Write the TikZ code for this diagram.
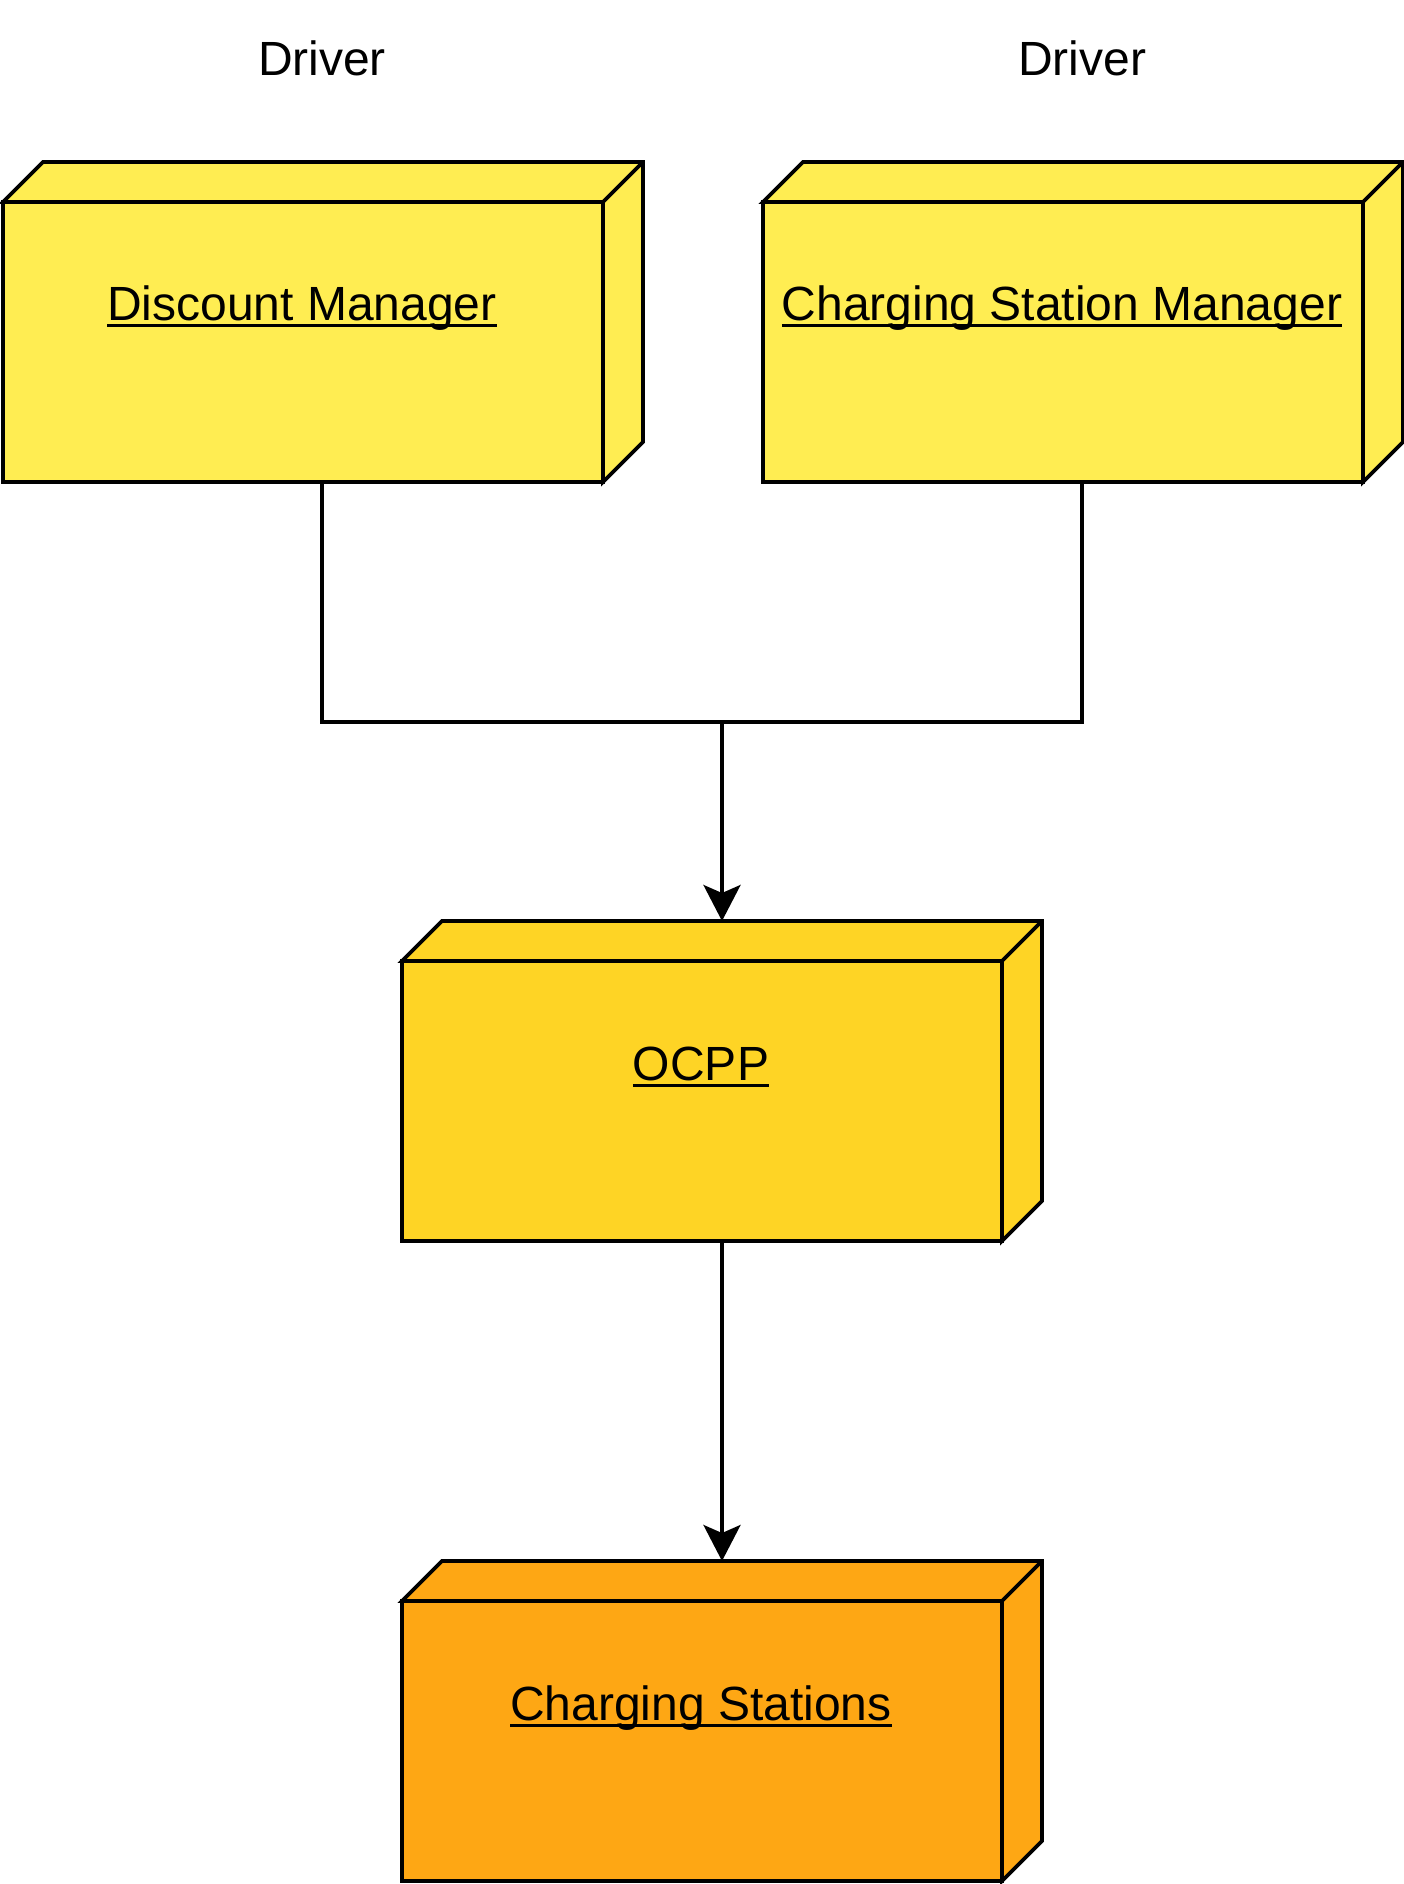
\documentclass[tikz,border=0pt]{standalone}
\usepackage{fontspec}
\setmainfont{Liberation Sans}
\usetikzlibrary{arrows.meta,calc}
\definecolor{ylight}{HTML}{FFED52}
\definecolor{ymid}{HTML}{FED425}
\definecolor{yorange}{HTML}{FEA714}
\newcommand{\myul}[1]{\setbox0\hbox{#1}\rlap{\rule[-6.5pt]{\wd0}{3pt}}\box0}
\tikzset{
  frontface/.style={draw=black, line width=3.8pt, minimum width=600pt, minimum height=280pt, inner sep=0pt, outer sep=0pt},
  lbl/.style={font=\fontsize{48}{57}\selectfont, anchor=base, inner sep=0pt},
  conn/.style={draw=black, line width=3.8pt},
  arr/.style={conn, -{Stealth[length=36pt, width=37pt, inset=8pt]}},
}
\newcommand{\boxdepth}[2]{%
  \draw[line width=3.8pt, line join=miter, fill=#2] (#1.north west) -- ++(40,-40) -- ++(600,0) -- ++(0,280) -- (#1.south east) -- (#1.north east) -- cycle;
  \draw[line width=3.8pt] (#1.north east) -- ++(40,-40);
}
\begin{document}
\begin{tikzpicture}[x=1pt, y=-1pt]
\useasboundingbox (0,0) rectangle (1404,1884);
% driver labels
\node[lbl] (drv1) at (322,75) {Driver};
\node[lbl] (drv2) at (1082,75) {Driver};
% boxes
\node[frontface, fill=ylight] (dm) at (303,342) {};
\boxdepth{dm}{ylight}
\node[lbl] (dmt) at (302,320) {\myul{Discount Manager}};

\node[frontface, fill=ylight] (csm) at (1063,342) {};
\boxdepth{csm}{ylight}
\node[lbl] (csmt) at (1062,320) {\myul{Charging Station Manager}};

\node[frontface, fill=ymid] (ocpp) at (702,1101) {};
\boxdepth{ocpp}{ymid}
\node[lbl] (ocppt) at (701,1080) {\myul{OCPP}};

\node[frontface, fill=yorange] (cs) at (702,1741) {};
\boxdepth{cs}{yorange}
\node[lbl] (cst) at (701,1720) {\myul{Charging Stations}};

% connectors
\coordinate (j) at (722,722);
\draw[conn] ([xshift=19pt]dm.south) |- (j);
\draw[conn] ([xshift=19pt]csm.south) |- (j);
\draw[arr] (j) -- ([xshift=20pt,yshift=40pt]ocpp.north);
\draw[arr] ([xshift=20pt]ocpp.south) -- ([xshift=20pt,yshift=40pt]cs.north);
\end{tikzpicture}
\end{document}
